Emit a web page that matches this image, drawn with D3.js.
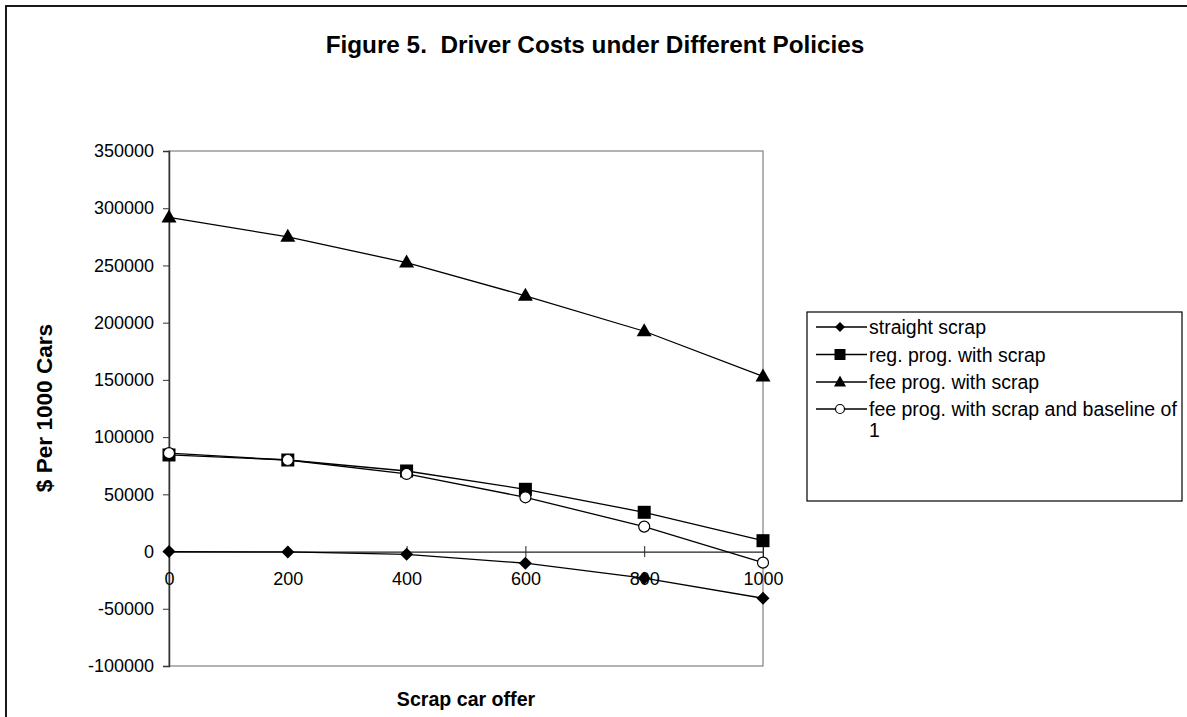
<!DOCTYPE html>
<html><head><meta charset="utf-8">
<script src="https://cdn.jsdelivr.net/npm/d3@7"></script>
<style>body{margin:0;background:#fff;}svg{display:block;font-family:"Liberation Sans",Arial,sans-serif;}</style>
</head><body>
<svg id="c" width="1187" height="717"></svg>
<script>
const offers = [0, 200, 400, 600, 800, 1000];
const straightScrap = [0, -300, -2400, -10200, -23300, -40800];
const regProgScrap = [84400, 80000, 70400, 54400, 34300, 9500];
const feeProgScrap = [292000, 275000, 252500, 223500, 192500, 153000];
const feeProgBaseline = [86000, 80000, 67800, 47400, 21800, -9700];
const seriesNames = ["straight scrap", "reg. prog. with scrap", "fee prog. with scrap", "fee prog. with scrap and baseline of 1"];
const markerKinds = ["diamond", "square", "triangle", "circle"];
const yTicks = [-100000, -50000, 0, 50000, 100000, 150000, 200000, 250000, 300000, 350000];
const xTicks = [0, 200, 400, 600, 800, 1000];

const svg = d3.select("#c");
// outer frame (only top/left visible)
svg.append("rect").attr("x",6).attr("y",6).attr("width",1300).attr("height",800)
  .attr("fill","none").attr("stroke","#000").attr("stroke-width",1.8);

const L=169, R=763, T=151, B=666;
const x = d3.scaleLinear().domain([0,1000]).range([L,R]);
const y = d3.scaleLinear().domain([-100000,350000]).range([B,T]);

// plot area border
svg.append("rect").attr("x",L).attr("y",T).attr("width",R-L).attr("height",B-T)
  .attr("fill","none").attr("stroke","#808080").attr("stroke-width",1.2);

// y axis
const yAxis = d3.axisLeft(y).tickValues(yTicks).tickFormat(d=>String(d)).tickSize(6).tickPadding(9);
const gy = svg.append("g").attr("transform",`translate(${L},0)`).call(yAxis);
gy.select(".domain").attr("stroke","#333").attr("stroke-width",1.5);
gy.selectAll(".tick line").attr("stroke","#333");
gy.selectAll("text").attr("font-size",18).attr("fill","#000").attr("font-family","Liberation Sans, Arial, sans-serif");

// x axis at y=0 with cross ticks
const xAxis = d3.axisBottom(x).tickValues(xTicks).tickSizeInner(5.5).tickSizeOuter(0).tickPadding(15).tickFormat(d=>String(d));
const gx = svg.append("g").attr("transform",`translate(0,${y(0)})`).call(xAxis);
gx.select(".domain").attr("stroke","#222").attr("stroke-width",1.2);
gx.selectAll(".tick line").attr("y1",-5.5).attr("y2",5.5).attr("stroke","#222");
gx.selectAll("text").attr("font-size",18).attr("fill","#000").attr("font-family","Liberation Sans, Arial, sans-serif");

const data = [straightScrap, regProgScrap, feeProgScrap, feeProgBaseline];
const line = d3.line().x((d,i)=>x(offers[i])).y(d=>y(d));

function marker(g, kind, cx, cy){
  if(kind==="diamond"){
    g.append("path").attr("d",`M${cx},${cy-6.5}L${cx+6.5},${cy}L${cx},${cy+6.5}L${cx-6.5},${cy}Z`).attr("fill","#000");
  } else if(kind==="square"){
    g.append("rect").attr("x",cx-6.5).attr("y",cy-6.5).attr("width",13).attr("height",13).attr("fill","#000");
  } else if(kind==="triangle"){
    g.append("path").attr("d",`M${cx},${cy-8}L${cx+7.5},${cy+5}L${cx-7.5},${cy+5}Z`).attr("fill","#000");
  } else {
    g.append("circle").attr("cx",cx).attr("cy",cy).attr("r",5.5).attr("fill","#fff").attr("stroke","#000").attr("stroke-width",1.2);
  }
}

data.forEach((vals,si)=>{
  const g = svg.append("g");
  g.append("path").attr("d",line(vals)).attr("fill","none").attr("stroke","#000").attr("stroke-width",1.3);
  vals.forEach((v,i)=>marker(g, markerKinds[si], x(offers[i]), y(v)));
});

// titles
svg.append("text").attr("x",595).attr("y",53).attr("text-anchor","middle")
  .attr("font-size",24.3).attr("font-weight","bold").style("white-space","pre")
  .text("Figure 5.  Driver Costs under Different Policies");
svg.append("text").attr("x",(L+R)/2).attr("y",706).attr("text-anchor","middle")
  .attr("font-size",19.6).attr("font-weight","bold").text("Scrap car offer");
svg.append("text").attr("transform",`translate(52,408) rotate(-90)`).attr("text-anchor","middle")
  .attr("font-size",22.6).attr("font-weight","bold").text("$ Per 1000 Cars");

// legend
const lg = svg.append("g");
lg.append("rect").attr("x",807).attr("y",312).attr("width",375).attr("height",189)
  .attr("fill","#fff").attr("stroke","#000").attr("stroke-width",1.2);
const rows = [327, 354.5, 382, 409];
seriesNames.forEach((n,i)=>{
  const cy = rows[i];
  lg.append("line").attr("x1",816).attr("x2",867).attr("y1",cy).attr("y2",cy).attr("stroke","#000").attr("stroke-width",1.3);
  const mg = lg.append("g");
  if(markerKinds[i]==="circle"){
    mg.append("circle").attr("cx",840).attr("cy",cy).attr("r",4.5).attr("fill","#fff").attr("stroke","#000").attr("stroke-width",1.2);
  } else if(markerKinds[i]==="diamond"){
    mg.append("path").attr("d",`M840,${cy-5}L845,${cy}L840,${cy+5}L835,${cy}Z`).attr("fill","#000");
  } else if(markerKinds[i]==="square"){
    mg.append("rect").attr("x",834.5).attr("y",cy-5.5).attr("width",11).attr("height",11).attr("fill","#000");
  } else {
    mg.append("path").attr("d",`M840,${cy-6.5}L846,${cy+4.5}L834,${cy+4.5}Z`).attr("fill","#000");
  }
});
const lt = [["straight scrap"],["reg. prog. with scrap"],["fee prog. with scrap"],["fee prog. with scrap and baseline of","1"]];
lt.forEach((lines,i)=>{
  const t = lg.append("text").attr("x",869).attr("y",rows[i]+7).attr("font-size",19.5);
  lines.forEach((s,k)=>t.append("tspan").attr("x",869).attr("dy",k===0?0:21).text(s));
});
</script>
</body></html>
